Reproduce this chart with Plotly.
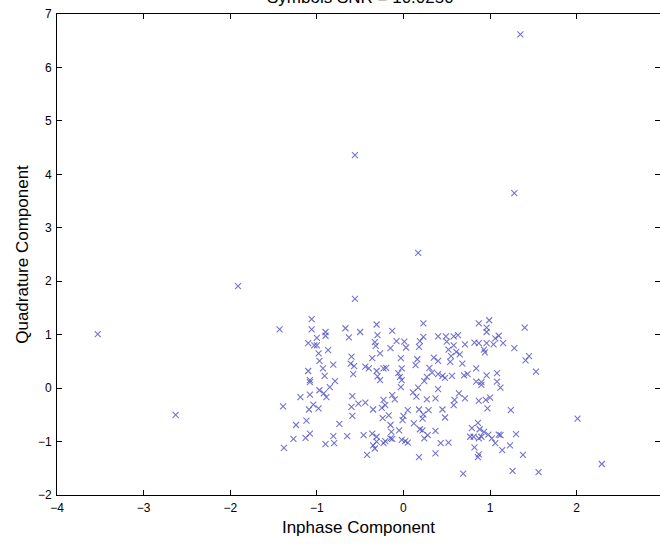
import plotly.graph_objects as go

# Inphase (x) and quadrature (y) components of received symbols
inphase = [
    # outliers
    1.35, -0.56, 1.28, 0.17, -1.91, -3.53, -2.63,
    # cluster, upper-left
    -0.56, -1.06, -1.43, -1.06, -0.90, -0.67, -0.50, -0.31, -1.00, -0.90,
    -0.63, -0.30, -1.10, -1.03, -1.00, -0.33, -0.32, -0.87, -0.98, -0.27,
    -0.60, -0.36, -0.97, -0.61, -0.81, -0.57, -0.44, -0.40, -0.93, -1.10,
    -0.31, -0.23, -0.58, -0.91, -0.30, -1.08, -0.79, -0.27, -1.08,
    # cluster, upper-middle
    0.23, -0.13, 0.87, 0.99, 0.96, 0.96, 0.23, 0.40, 0.49, 0.58,
    0.63, 1.06, 1.10, -0.08, 0.01, 0.19, 0.50, 0.82, 0.87, 0.96,
    1.15, -0.15, 0.03, 0.18, 0.58, 0.71, 1.04, 0.52, 0.93, 0.94,
    0.61, 0.65, 0.55, 0.35, -0.03, 0.16, 0.40, 0.54, 0.68, 0.14,
    -0.20, -0.02, 0.30, 0.84, 0.33, 0.40, 0.45, 0.48, 0.56, -0.06,
    -0.04, 0.27, 0.70, 0.74, 0.96, 1.08, -0.02, 0.24, 0.84, 0.90,
    1.08,
    # cluster, upper-right
    1.40, 1.28, 1.45, 1.41, 1.53,
    # cluster, lower-left
    -1.08, -1.19, -0.97, -0.92, -0.89, -0.85, -1.04, -1.09, -0.98, -1.39,
    -0.59, -0.60, -0.52, -0.44, -0.59, -0.35, -0.25, -0.23, -0.24, -1.12,
    -1.24, -0.74, -1.08, -1.13, -1.27, -0.81, -0.65, -0.46, -0.36, -0.31,
    -0.31, -0.35, -0.33, -0.23, -0.90, -0.80, -1.38, -0.42,
    # cluster, lower-middle
    -0.03, 0.17, 0.40, -0.13, -0.10, 0.11, 0.15, 0.27, 0.37, 0.64,
    0.71, 0.59, 0.58, 0.87, 0.95, 1.00, 0.90, 0.97, 1.12, -0.21,
    0.05, 0.18, 0.29, 0.23, 0.22, 0.45, 0.48, 0.00, -0.01, -0.17,
    0.12, -0.15, -0.05, 0.19, 0.22, 0.37, 0.28, 0.24, -0.14, -0.15,
    -0.13, -0.02, 0.02, 0.05, -0.21, 0.43, 0.52, 0.86, 0.79, 0.88,
    0.93, 0.98, 0.77, 0.81, 0.87, 0.90, 1.02, 1.10, 1.12, 1.06,
    1.14, 0.82, 0.87, 0.86, 0.37, 0.18, 0.69,
    # cluster, lower-right
    1.24, 2.01, 1.30, 1.23, 1.38, 2.29, 1.26, 1.56,
]
quadrature = [
    # outliers
    6.62, 4.36, 3.65, 2.53, 1.91, 1.01, -0.50,
    # cluster, upper-left
    1.67, 1.29, 1.10, 1.10, 1.05, 1.12, 1.05, 1.19, 0.94, 0.98,
    0.95, 0.99, 0.84, 0.80, 0.80, 0.86, 0.79, 0.71, 0.65, 0.65,
    0.59, 0.56, 0.51, 0.46, 0.44, 0.41, 0.40, 0.37, 0.37, 0.32,
    0.32, 0.37, 0.26, 0.23, 0.22, 0.15, 0.13, 0.15, 0.11,
    # cluster, upper-middle
    1.21, 1.07, 1.21, 1.27, 1.13, 1.05, 0.96, 0.97, 0.97, 0.97,
    0.99, 0.93, 0.98, 0.88, 0.87, 0.88, 0.87, 0.85, 0.84, 0.84,
    0.84, 0.75, 0.76, 0.77, 0.80, 0.82, 0.82, 0.72, 0.72, 0.67,
    0.68, 0.63, 0.60, 0.57, 0.56, 0.54, 0.51, 0.49, 0.46, 0.43,
    0.38, 0.37, 0.38, 0.37, 0.29, 0.26, 0.23, 0.19, 0.23, 0.28,
    0.21, 0.21, 0.24, 0.26, 0.24, 0.28, 0.15, 0.13, 0.12, 0.11,
    0.12,
    # cluster, upper-right
    1.13, 0.75, 0.60, 0.52, 0.31,
    # cluster, lower-left
    -0.12, -0.17, -0.04, -0.10, -0.17, 0.02, -0.31, -0.40, -0.38, -0.34,
    -0.15, -0.35, -0.29, -0.27, -0.52, -0.40, -0.37, -0.22, -0.56, -0.61,
    -0.69, -0.67, -0.85, -0.93, -0.95, -0.90, -0.90, -0.88, -0.85, -0.91,
    -1.00, -1.07, -1.13, -1.03, -1.05, -1.03, -1.12, -1.25,
    # cluster, lower-middle
    0.02, 0.01, -0.02, -0.13, -0.21, -0.08, -0.16, -0.21, -0.19, -0.10,
    -0.19, -0.22, -0.32, -0.24, -0.22, -0.18, 0.06, -0.38, 0.01, -0.32,
    -0.41, -0.40, -0.41, -0.49, -0.57, -0.40, -0.55, -0.52, -0.60, -0.51,
    -0.66, -0.69, -0.79, -0.77, -0.79, -0.80, -0.88, -0.94, -0.82, -0.94,
    -0.95, -0.97, -0.99, -1.02, -0.99, -1.03, -1.02, -0.65, -0.75, -0.77,
    -0.82, -0.87, -0.91, -0.91, -0.94, -0.91, -0.94, -0.87, -0.88, -1.03,
    -1.16, -1.11, -1.24, -1.29, -1.22, -1.29, -1.60,
    # cluster, lower-right
    -0.41, -0.57, -0.86, -1.07, -1.25, -1.42, -1.55, -1.57,
]

x_ticks = [-4, -3, -2, -1, 0, 1, 2, 3]
y_ticks = [-2, -1, 0, 1, 2, 3, 4, 5, 6, 7]
title_text = "Symbols SNR = 10.0250"

FONT = "Liberation Sans, Arial, sans-serif"

fig = go.Figure()
fig.add_trace(go.Scatter(
    x=inphase, y=quadrature, mode="markers",
    marker=dict(symbol="x-thin", size=6, color="rgba(0,0,0,0)",
                line=dict(width=1.1, color="rgba(70,70,190,0.75)")),
    showlegend=False, hoverinfo="x+y",
))
# invisible trace for right-hand mirrored tick marks
fig.add_trace(go.Scatter(x=[0], y=[0], yaxis="y2", mode="markers",
                         marker=dict(opacity=0), showlegend=False, hoverinfo="skip"))

fig.update_layout(
    width=660, height=545,
    margin=dict(l=57, r=0, t=14, b=50),
    paper_bgcolor="white", plot_bgcolor="white",
    font=dict(family=FONT, color="black"),
    xaxis=dict(range=[-4, 2.962], tickvals=x_ticks, ticks="inside", ticklen=5,
               tickcolor="black", showline=True, linecolor="black", linewidth=1,
               mirror="ticks", showgrid=False, zeroline=False, automargin=False,
               tickfont=dict(size=12), ticklabelstandoff=2,
               title=dict(text="Inphase Component", font=dict(size=17), standoff=6)),
    yaxis=dict(range=[-2, 7], tickvals=y_ticks, ticks="inside", ticklen=5,
               tickcolor="black", showline=True, linecolor="black", linewidth=1,
               showgrid=False, zeroline=False, tickfont=dict(size=12),
               ticklabelstandoff=2, automargin=False,
               title=dict(text="Quadrature Component", font=dict(size=17), standoff=4)),
    yaxis2=dict(range=[-2, 7], tickvals=y_ticks, overlaying="y", side="right",
                ticks="inside", ticklen=5, tickcolor="black", showticklabels=False,
                showgrid=False, zeroline=False, showline=False, automargin=False),
    annotations=[dict(text=title_text, xref="x", yref="paper", x=-0.5, y=1,
                      xanchor="center", yanchor="bottom", yshift=5,
                      showarrow=False, font=dict(size=17, color="black"))],
)

fig.write_html("out.html", config={"displayModeBar": False},
               post_script="document.body.style.margin='0';document.body.style.overflow='hidden';")
